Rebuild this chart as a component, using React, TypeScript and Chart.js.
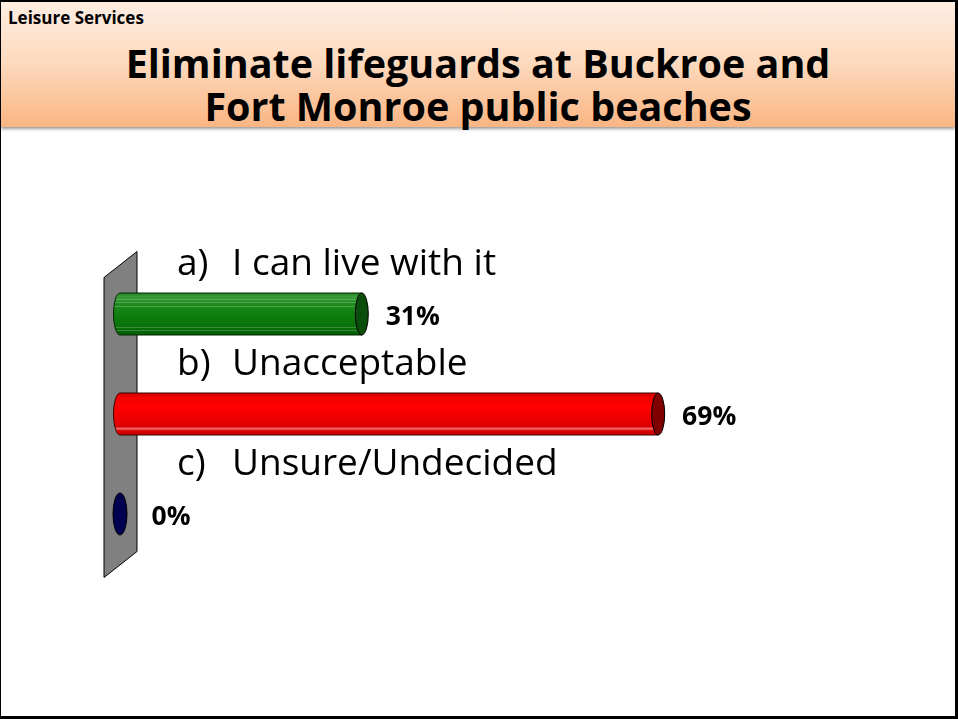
import React, { useEffect, useRef } from "react";
import { Chart, registerables } from "chart.js";

Chart.register(...registerables);

const categoryPrefixes = ["a)", "b)", "c)"];
const categories = ["I can live with it", "Unacceptable", "Unsure/Undecided"];
const values = [31, 69, 0];
const valueLabels = ["31%", "69%", "0%"];
const headerLabel = "Leisure Services";
const titleLines = ["Eliminate lifeguards at Buckroe and", "Fort Monroe public beaches"];

type Look = { stops: [number, string][]; edge: string; cap: string; stripes: number[] };
const looks: Look[] = [
  {
    stops: [[0, "#1b7f1b"], [0.08, "#3a9a3a"], [0.25, "#1e8c1e"], [0.5, "#0f800f"], [0.8, "#087008"], [1, "#035c03"]],
    edge: "#002a00",
    cap: "#0b4d0b",
    stripes: [0.14, 0.22, 0.3, 0.8, 0.88],
  },
  {
    stops: [[0, "#d80000"], [0.15, "#f50000"], [0.35, "#ff0000"], [0.65, "#ea0000"], [0.8, "#dc0000"], [0.85, "#f07070"], [0.9, "#dd0000"], [1, "#c80000"]],
    edge: "#3a0000",
    cap: "#800000",
    stripes: [],
  },
  {
    stops: [[0, "#000050"], [1, "#000050"]],
    edge: "#000000",
    cap: "#000050",
    stripes: [],
  },
];

const FONT = '"Open Sans", "Noto Sans", sans-serif';

const cylinderPlugin = {
  id: "cylinders",
  beforeDatasetsDraw(chart: any) {
    const ctx = chart.ctx as CanvasRenderingContext2D;
    const { top, bottom } = chart.chartArea;
    const x0 = chart.scales.x.getPixelForValue(0);
    const l = x0 - 16, r = x0 + 17;
    ctx.save();
    ctx.beginPath();
    ctx.moveTo(l, top + 13.5);
    ctx.lineTo(r, top - 12.5);
    ctx.lineTo(r, bottom - 12.5);
    ctx.lineTo(l, bottom + 13.5);
    ctx.closePath();
    ctx.fillStyle = "#808080";
    ctx.fill();
    ctx.lineWidth = 1;
    ctx.strokeStyle = "#000";
    ctx.stroke();
    ctx.restore();
  },
  beforeDatasetDraw() {
    return false;
  },
  afterDatasetsDraw(chart: any) {
    const ctx = chart.ctx as CanvasRenderingContext2D;
    const meta = chart.getDatasetMeta(0);
    const rx = 6.5;
    ctx.save();
    meta.data.forEach((el: any, i: number) => {
      const { x, y, base, height } = el.getProps(["x", "y", "base", "height"], true);
      const look = looks[i % looks.length];
      const ry = height / 2;
      const top = y - ry, bot = y + ry;
      if (x - base > 0.5) {
        const g = ctx.createLinearGradient(0, top, 0, bot);
        look.stops.forEach(([o, c]) => g.addColorStop(o, c));
        ctx.beginPath();
        ctx.moveTo(x, top);
        ctx.lineTo(base, top);
        ctx.ellipse(base, y, rx, ry, 0, -Math.PI / 2, Math.PI / 2, true);
        ctx.lineTo(x, bot);
        ctx.closePath();
        ctx.fillStyle = g;
        ctx.fill();
        ctx.save();
        ctx.clip();
        ctx.strokeStyle = "rgba(255,255,255,0.22)";
        ctx.lineWidth = 1;
        look.stripes.forEach((f) => {
          const yy = Math.round(top + f * height) + 0.5;
          ctx.beginPath();
          ctx.moveTo(base - rx, yy);
          ctx.lineTo(x, yy);
          ctx.stroke();
        });
        ctx.restore();
        ctx.beginPath();
        ctx.moveTo(x, top);
        ctx.lineTo(base, top);
        ctx.ellipse(base, y, rx, ry, 0, -Math.PI / 2, Math.PI / 2, true);
        ctx.lineTo(x, bot);
        ctx.strokeStyle = look.edge;
        ctx.lineWidth = 1;
        ctx.stroke();
        ctx.beginPath();
        ctx.ellipse(x, y, rx, ry, 0, 0, Math.PI * 2);
        ctx.fillStyle = look.cap;
        ctx.fill();
        ctx.strokeStyle = "#000";
        ctx.stroke();
      } else {
        ctx.beginPath();
        ctx.ellipse(base, y, rx + 0.5, ry, 0, 0, Math.PI * 2);
        ctx.fillStyle = look.cap;
        ctx.fill();
        ctx.strokeStyle = "#000";
        ctx.lineWidth = 1;
        ctx.stroke();
      }
      // category label above the bar
      ctx.fillStyle = "#000";
      ctx.textAlign = "left";
      ctx.textBaseline = "alphabetic";
      ctx.font = `37px ${FONT}`;
      ctx.fillText(categoryPrefixes[i], base + 57, y - 39);
      ctx.fillText(categories[i], base + 112, y - 39);
      // value label
      ctx.font = `bold 26.5px ${FONT}`;
      ctx.textAlign = "center";
      ctx.fillText(valueLabels[i], x + 51, y + 10.5);
    });
    ctx.restore();
  },
};

export default function App() {
  const ref = useRef<HTMLCanvasElement | null>(null);

  useEffect(() => {
    document.body.style.margin = "0";
    const canvas = ref.current!;
    const chart = new Chart(canvas, {
      type: "bar",
      data: {
        labels: categories,
        datasets: [{ data: values, backgroundColor: "#008000", barThickness: 42 }],
      },
      options: {
        animation: false,
        responsive: false,
        indexAxis: "y",
        layout: { padding: { left: 120, right: 58, top: 264, bottom: 155 } },
        scales: {
          x: { display: false, min: 0, max: 100 },
          y: { display: false },
        },
        plugins: { legend: { display: false }, tooltip: { enabled: false } },
      },
      plugins: [cylinderPlugin],
    });
    return () => chart.destroy();
  }, []);

  return (
    <div style={{ position: "relative", width: 958, height: 719, background: "#fff", overflow: "hidden" }}>
      <div
        style={{
          position: "absolute",
          left: 1,
          top: 0,
          width: 954,
          height: 127,
          background: "linear-gradient(to bottom, #feefe4 0%, #fdd9bd 50%, #fab583 100%)",
          boxShadow: "0 2px 3px rgba(0,0,0,0.4)",
        }}
      />
      <div
        style={{
          position: "absolute",
          left: 8,
          top: 8,
          fontFamily: FONT,
          fontWeight: 700,
          fontSize: 17,
          lineHeight: "20px",
          color: "#000",
          whiteSpace: "nowrap",
        }}
      >
        {headerLabel}
      </div>
      <div
        style={{
          position: "absolute",
          left: 0,
          top: 42,
          width: 956,
          textAlign: "center",
          fontFamily: FONT,
          fontWeight: 700,
          fontSize: 39.5,
          lineHeight: "43px",
          color: "#000",
          whiteSpace: "nowrap",
        }}
      >
        <div>{titleLines[0]}</div>
        <div>{titleLines[1]}</div>
      </div>
      <canvas ref={ref} width={958} height={719} style={{ position: "absolute", left: 0, top: 0 }} />
      <div
        style={{
          position: "absolute",
          left: 0,
          top: 0,
          width: 958,
          height: 719,
          boxSizing: "border-box",
          borderStyle: "solid",
          borderColor: "#000",
          borderWidth: "2px 3px 3px 1px",
          pointerEvents: "none",
        }}
      />
    </div>
  );
}
